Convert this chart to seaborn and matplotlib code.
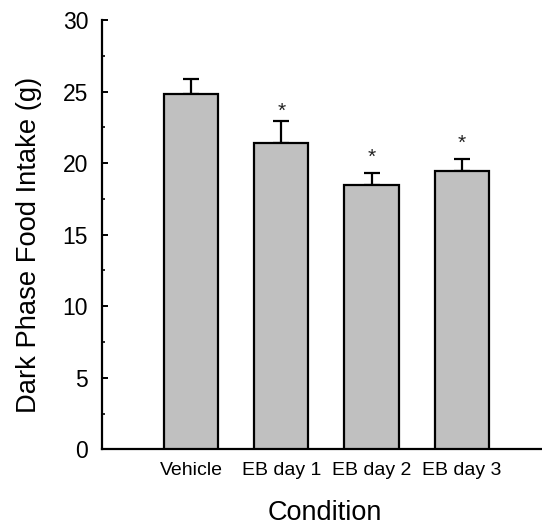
import matplotlib
matplotlib.use("Agg")
import matplotlib.pyplot as plt
import seaborn as sns
import pandas as pd
import numpy as np
from matplotlib.ticker import MultipleLocator

conditions = ["Vehicle", "EB day 1", "EB day 2", "EB day 3"]
intake = [24.8, 21.4, 18.5, 19.45]
sem = [1.07, 1.51, 0.84, 0.83]
star_height = [None, 23.65, 20.4, 21.4]

sns.set_theme(style="white")
plt.rcParams['font.family'] = ['Liberation Sans', 'DejaVu Sans']

df = pd.DataFrame({"Condition": conditions, "Intake": intake})

fig = plt.figure(figsize=(5.42, 5.31), dpi=100)
ax = fig.add_axes([102/542, 1-449.3/531, 439/542, 429.3/531])

sns.barplot(data=df, x="Condition", y="Intake", color="#c0c0c0", saturation=1,
            width=0.6, edgecolor="black", linewidth=1.6, errorbar=None, ax=ax, zorder=3)
xs = np.arange(len(conditions))
ax.errorbar(xs, intake, yerr=[np.zeros(len(sem)), sem], fmt="none", ecolor="black",
            elinewidth=1.6, capsize=6, capthick=1.6, zorder=2)
for x, h in zip(xs, star_height):
    if h is not None:
        ax.text(x, h, "*", ha="center", va="center", fontsize=15, color="#222222")

ax.set_xlim(-0.99, 3.88)
ax.set_ylim(0, 30)
ax.yaxis.set_major_locator(MultipleLocator(5))
ax.yaxis.set_minor_locator(MultipleLocator(2.5))
ax.tick_params(axis="y", which="major", direction="in", length=4, width=1.4,
               pad=10, labelsize=16.5, left=True, colors="black")
ax.tick_params(axis="y", which="minor", direction="in", length=2.5, width=1.4, left=True)
ax.tick_params(axis="x", length=0, pad=9, labelsize=14, colors="black")
for s in ["top", "right"]:
    ax.spines[s].set_visible(False)
for s in ["left", "bottom"]:
    ax.spines[s].set_linewidth(1.6)
    ax.spines[s].set_color("black")

ax.set_xlabel("Condition", fontsize=19.5, color="black")
ax.set_ylabel("Dark Phase Food Intake (g)", fontsize=19.7, color="black")
ax.xaxis.set_label_coords((325-102)/439, -(500-449.3)/429.3)
ax.yaxis.set_label_coords(-(102-42)/439, 0.476)

fig.savefig("out.png", dpi=100)
